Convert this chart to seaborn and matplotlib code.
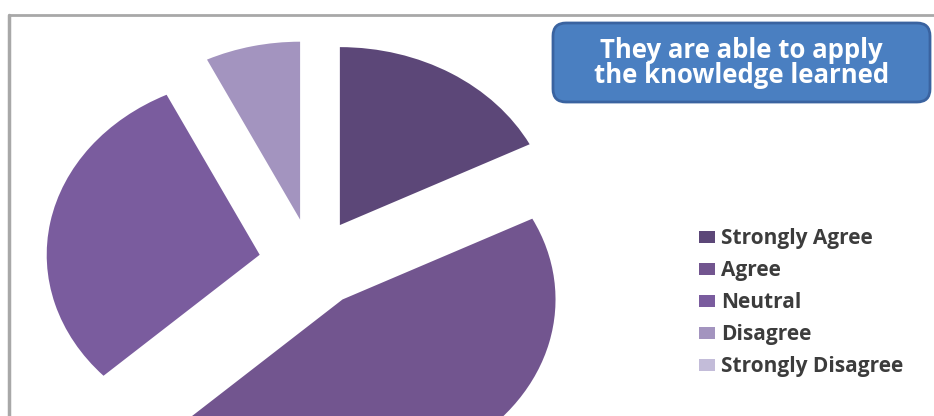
import matplotlib
matplotlib.use("Agg")
import matplotlib.pyplot as plt
from matplotlib.patches import FancyBboxPatch
from matplotlib.lines import Line2D
from matplotlib.transforms import IdentityTransform
import seaborn as sns

# Survey responses (percent of participants)
categories = ["Strongly Agree", "Agree", "Neutral", "Disagree", "Strongly Disagree"]
shares = [17.5, 45.6, 29.7, 7.2, 0.0]
title_text = "They are able to apply\nthe knowledge learned"

palette = ["#5c4778", "#72558f", "#7a5c9e", "#a394bf", "#c3bcd9"]

sns.set_theme(style="white")
plt.rcParams["font.family"] = ["Open Sans", "DejaVu Sans"]

W, H, DPI = 934, 416, 100
fig = plt.figure(figsize=(W / DPI, H / DPI), dpi=DPI)
fig.patch.set_facecolor("white")

ax = fig.add_axes([0, 0, 1, 1])
wedges, _ = ax.pie(
    shares,
    colors=palette,
    startangle=90,
    counterclock=False,
    explode=[0.25] * len(shares),
    radius=1.0,
    wedgeprops=dict(linewidth=0),
)
# stretched (elliptical) pie as in the slide layout
ax.set_aspect("auto")
ax.set_xlim(-1.465, 2.92)
ax.set_ylim(-0.86, 1.478)
ax.axis("off")

# slide frame: top and left edges
pix = IdentityTransform()
fig.add_artist(Line2D([9, W], [H - 15, H - 15], transform=pix, color="#a8a8a8", lw=2))
fig.add_artist(Line2D([9, 9], [0, H - 15], transform=pix, color="#a8a8a8", lw=2.5))

# title callout box
bx0, bx1, by_top, by_bot = 553, 930, 23, 102
box = FancyBboxPatch(
    (bx0, H - by_bot), bx1 - bx0, by_bot - by_top,
    boxstyle="round,pad=0,rounding_size=13",
    transform=pix, facecolor="#4a7fc1", edgecolor="#3a63a0", linewidth=2,
)
fig.add_artist(box)
fig.text(
    (bx0 + bx1) / 2 / W, 1 - 63 / H, title_text,
    ha="center", va="center", color="white", fontsize=18.5,
    fontweight="bold", linespacing=0.9,
)

leg = ax.legend(
    wedges, categories,
    loc="upper left",
    bbox_to_anchor=(699 / W, 1 - 228 / H),
    bbox_transform=fig.transFigure,
    frameon=False,
    fontsize=15,
    handlelength=0.75,
    handleheight=0.5,
    handletextpad=0.3,
    labelspacing=0.53,
    borderpad=0,
    borderaxespad=0,
)
for t in leg.get_texts():
    t.set_fontweight("bold")
    t.set_color("#3c3c3c")

fig.savefig("out.png", dpi=DPI, facecolor="white")
